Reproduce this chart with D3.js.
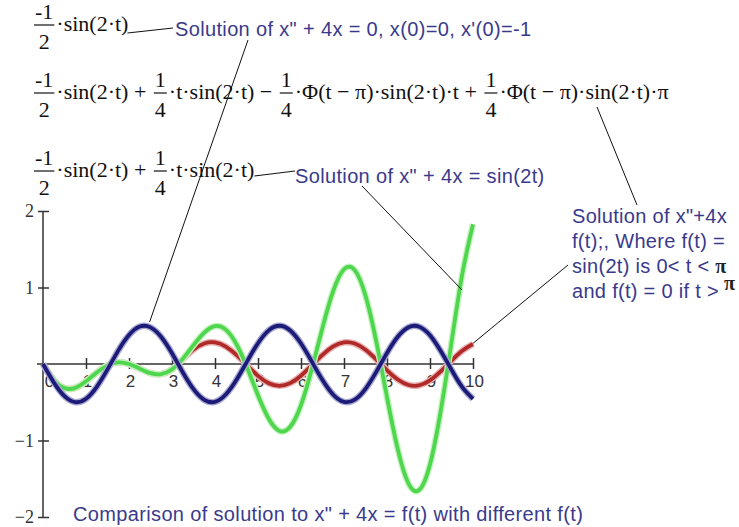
<!DOCTYPE html>
<html>
<head>
<meta charset="utf-8">
<script src="https://cdn.jsdelivr.net/npm/d3@7/dist/d3.min.js"></script>
<style>
  html, body { margin: 0; padding: 0; background: #fff; }
  svg { display: block; }
</style>
</head>
<body>
<div id="chart"></div>
<script>
// valeurs (t de 0 à 10, pas de 0.25)
const tValues = [0, 0.25, 0.5, 0.75, 1, 1.25, 1.5, 1.75, 2, 2.25, 2.5, 2.75, 3, 3.25, 3.5, 3.75, 4, 4.25, 4.5, 4.75,
  5, 5.25, 5.5, 5.75, 6, 6.25, 6.5, 6.75, 7, 7.25, 7.5, 7.75, 8, 8.25, 8.5, 8.75, 9, 9.25, 9.5, 9.75, 10];

// x" + 4x = 0, x(0)=0, x'(0)=-1
const blueValues = [0, -0.240, -0.421, -0.499, -0.455, -0.299, -0.071, 0.175, 0.378, 0.489, 0.479, 0.353, 0.140,
  -0.108, -0.329, -0.469, -0.495, -0.399, -0.206, 0.038, 0.272, 0.440, 0.500, 0.438, 0.268, 0.033, -0.210, -0.402,
  -0.495, -0.467, -0.325, -0.103, 0.144, 0.356, 0.481, 0.488, 0.376, 0.169, -0.075, -0.303, -0.456];

// f(t) = sin(2t) si 0 < t < pi, 0 sinon
const redValues = [0, -0.210, -0.316, -0.312, -0.227, -0.112, -0.018, 0.022, 0, -0.061, -0.120, -0.132, -0.070,
  0.061, 0.188, 0.268, 0.282, 0.228, 0.118, -0.021, -0.155, -0.251, -0.285, -0.250, -0.153, -0.019, 0.120, 0.229,
  0.283, 0.267, 0.186, 0.059, -0.082, -0.203, -0.274, -0.278, -0.214, -0.097, 0.043, 0.173, 0.261];

// x" + 4x = sin(2t)
const greenValues = [0, -0.210, -0.316, -0.312, -0.227, -0.112, -0.018, 0.022, 0, -0.061, -0.120, -0.132, -0.070,
  0.067, 0.246, 0.410, 0.495, 0.449, 0.258, -0.052, -0.408, -0.715, -0.875, -0.821, -0.537, -0.070, 0.473, 0.955,
  1.238, 1.227, 0.894, 0.297, -0.432, -1.112, -1.562, -1.646, -1.314, -0.613, 0.281, 1.173, 1.826];

const xTicks = [0, 1, 2, 3, 4, 5, 6, 7, 8, 9, 10];
const yTicks = [-2, -1, 1, 2];

const width = 739;
const height = 527;

const serif = "'Liberation Serif', 'Times New Roman', serif";
const sans = "'Liberation Sans', Arial, sans-serif";
const labelColor = "#3a3a8c";
const sp = "\u00a0"; // espace insécable

const x = d3.scaleLinear().domain([0, 10]).range([43, 473]);
const y = d3.scaleLinear().domain([-2, 2]).range([517, 211]);

const svg = d3.select("#chart")
    .append("svg")
    .attr("width", width)
    .attr("height", height)
    .style("background", "#fff");

// Axes
const xAxis = svg.append("g")
    .attr("transform", `translate(0,${y(0)})`)
    .call(d3.axisBottom(x).tickValues(xTicks).tickSize(5).tickPadding(6).tickFormat(d3.format("d")));
xAxis.select(".domain").remove();
xAxis.selectAll(".tick line").attr("y1", -6).attr("stroke", "#333").attr("stroke-width", 1.5);
xAxis.selectAll(".tick text")
    .style("font-family", sans)
    .style("font-size", "17px")
    .attr("fill", "#333")
    .attr("dx", d => d === 0 ? 6 : 1);
xAxis.selectAll(".tick").filter(d => d === 0).select("line").remove();

svg.append("line")
    .attr("x1", x(0) - 6).attr("x2", x(10))
    .attr("y1", y(0)).attr("y2", y(0))
    .attr("stroke", "#333").attr("stroke-width", 1.5);

const yAxis = svg.append("g")
    .attr("transform", `translate(${x(0)},0)`)
    .call(d3.axisLeft(y).tickValues(yTicks).tickSize(5).tickPadding(4).tickFormat(d => d < 0 ? "\u2212" + (-d) : d));
yAxis.select(".domain").remove();
yAxis.selectAll(".tick line").attr("x1", 6).attr("stroke", "#333").attr("stroke-width", 1.5);
yAxis.selectAll(".tick text")
    .style("font-family", serif)
    .style("font-size", "18px")
    .attr("fill", "#333");

svg.append("line")
    .attr("x1", x(0)).attr("x2", x(0))
    .attr("y1", y(2)).attr("y2", y(-2))
    .attr("stroke", "#333").attr("stroke-width", 1.5);

// Courbes
const line = d3.line()
    .x((d, i) => x(tValues[i]))
    .y(d => y(d))
    .curve(d3.curveNatural);

const series = [
    { values: redValues, color: "#b02a2a", halo: "#e8b0b0" },
    { values: greenValues, color: "#4ed64e", halo: "#c4f2bc" },
    { values: blueValues, color: "#1c1c78", halo: "#a8a8d0" }
];

series.forEach(s => {
    svg.append("path")
        .attr("d", line(s.values))
        .attr("fill", "none")
        .attr("stroke", s.halo)
        .attr("stroke-width", 6.5)
        .attr("stroke-linejoin", "round");
    svg.append("path")
        .attr("d", line(s.values))
        .attr("fill", "none")
        .attr("stroke", s.color)
        .attr("stroke-width", 3.8)
        .attr("stroke-linejoin", "round");
});

// Formules (style Mathcad)
function formula(x0, base, tokens) {
    const g = svg.append("g")
        .style("font-family", serif)
        .style("font-size", "22px")
        .attr("fill", "#111");
    let cx = x0;
    tokens.forEach((tok, i) => {
        if (typeof tok === "string") {
            const t = g.append("text").attr("x", cx).attr("y", base).text(tok);
            cx += t.node().getComputedTextLength();
        } else {
            if (i > 0) cx += 2;
            const n = g.append("text").attr("y", base - 12).attr("text-anchor", "middle").text(tok[0]);
            const d = g.append("text").attr("y", base + 18).attr("text-anchor", "middle").text(tok[1]);
            const w = Math.max(n.node().getComputedTextLength(), d.node().getComputedTextLength()) + 2;
            n.attr("x", cx + w / 2);
            d.attr("x", cx + w / 2);
            g.append("line")
                .attr("x1", cx).attr("x2", cx + w)
                .attr("y1", base - 6).attr("y2", base - 6)
                .attr("stroke", "#111").attr("stroke-width", 1.2);
            cx += w + 2;
        }
    });
    return cx;
}

const end1 = formula(34, 31, [["-1", "2"], "\u00b7sin(2\u00b7t)"]);
formula(34, 99, [["-1", "2"], "\u00b7sin(2\u00b7t) +" + sp, ["1", "4"], "\u00b7t\u00b7sin(2\u00b7t) \u2212" + sp, ["1", "4"],
    "\u00b7\u03a6(t \u2212 \u03c0)\u00b7sin(2\u00b7t)\u00b7t +" + sp, ["1", "4"], "\u00b7\u03a6(t \u2212 \u03c0)\u00b7sin(2\u00b7t)\u00b7\u03c0"]);
const end3 = formula(34, 177, [["-1", "2"], "\u00b7sin(2\u00b7t) +" + sp, ["1", "4"], "\u00b7t\u00b7sin(2\u00b7t)"]);

// Textes
const labels = svg.append("g")
    .style("font-family", sans)
    .style("font-size", "20px")
    .style("letter-spacing", "0.35px")
    .attr("fill", labelColor);

labels.append("text").attr("x", 175).attr("y", 36)
    .text("Solution of x\" + 4x = 0, x(0)=0, x'(0)=-1");
labels.append("text").attr("x", 295).attr("y", 183)
    .text("Solution of x\" + 4x = sin(2t)");
labels.append("text").attr("x", 73).attr("y", 521)
    .text("Comparison of solution to x\" + 4x = f(t) with different f(t)");

const block = labels.append("text").attr("x", 572).style("letter-spacing", "0.3px");
block.append("tspan").attr("x", 572).attr("y", 223).text("Solution of x\"+4x");
block.append("tspan").attr("x", 572).attr("y", 248).text("f(t);, Where f(t) =");
block.append("tspan").attr("x", 572).attr("y", 273).text("sin(2t) is 0< t <" + sp);
block.append("tspan").style("font-family", serif).style("font-weight", "bold").attr("fill", "#222").text("\u03c0");
block.append("tspan").attr("x", 572).attr("y", 298).text("and f(t) = 0 if t >");
block.append("tspan").attr("dx", 5).attr("dy", -8).style("font-family", serif).style("font-weight", "bold").attr("fill", "#222").text("\u03c0");

// Traits de rappel
const leaders = [
    [[end1 - 1, 33], [173, 28]],
    [[248, 40], [x(2.48), y(0.55)]],
    [[end3, 176], [295, 171]],
    [[362, 186], [x(9.74), y(0.97)]],
    [[597, 107], [637, 205]],
    [[x(10), y(0.27)], [568, 265]]
];
svg.selectAll(".leader")
    .data(leaders)
    .enter()
    .append("line")
    .attr("class", "leader")
    .attr("x1", d => d[0][0]).attr("y1", d => d[0][1])
    .attr("x2", d => d[1][0]).attr("y2", d => d[1][1])
    .attr("stroke", "#111")
    .attr("stroke-width", 1);
</script>
</body>
</html>
